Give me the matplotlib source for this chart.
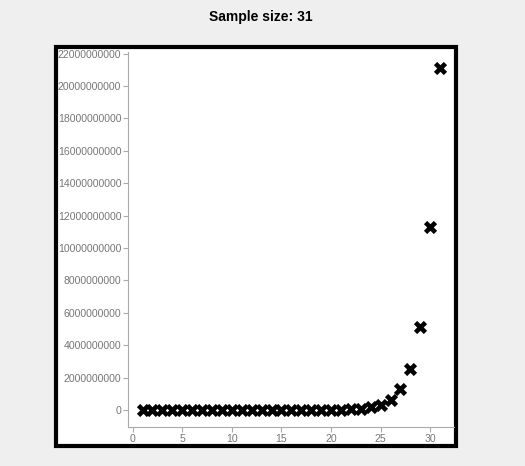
import matplotlib
matplotlib.use("Agg")
import matplotlib.pyplot as plt
from matplotlib.patches import Rectangle
from matplotlib.ticker import FuncFormatter, MultipleLocator

# --- Data ---
x_vals = list(range(1, 32))
y_vals = [
    0, 0, 0, 0, 0, 0, 0, 0, 0, 0,
    1e5, 2e5, 4e5, 8e5, 1.6e6, 3e6, 6e6, 1.2e7, 1.5e7, 2.5e7,
    3e7, 7e7, 8e7, 1.7e8, 3.2e8, 6.3e8, 1.28e9, 2.51e9, 5.11e9, 1.127e10,
    2.11e10,
]
title_text = "Sample size: 31"
y_ticks = [0, 2e9, 4e9, 6e9, 8e9, 10e9, 12e9, 14e9, 16e9, 18e9, 20e9, 22e9]

W, H = 525, 466
BG = "#efefef"
AXIS_GREY = "#aaaaaa"
LABEL_GREY = "#777777"

fig = plt.figure(figsize=(W / 100, H / 100), dpi=100, facecolor=BG)

# white panel with thick black border, drawn under the plot axes
fig.patches.append(Rectangle((56 / W, 1 - 446 / H), 400 / W, 399 / H,
                             transform=fig.transFigure, facecolor="white",
                             edgecolor="black", linewidth=3, zorder=0))

ax = fig.add_axes([128 / W, 1 - 427 / H, (454 - 128) / W, (427 - 52) / H])
ax.set_zorder(5)
ax.set_facecolor("none")
ax.scatter(x_vals, y_vals, marker="X", s=90, color="black", linewidths=0, zorder=3)

ax.set_xlim(-0.47, 32.4)
ax.set_ylim(-1.05e9, 22.1e9)
ax.xaxis.set_major_locator(MultipleLocator(5))
ax.set_yticks(y_ticks)
ax.yaxis.set_major_formatter(FuncFormatter(lambda v, p: f"{int(round(v))}"))

for side in ("top", "right"):
    ax.spines[side].set_visible(False)
for side in ("left", "bottom"):
    ax.spines[side].set_color(AXIS_GREY)
    ax.spines[side].set_linewidth(0.8)
ax.tick_params(colors=AXIS_GREY, labelcolor=LABEL_GREY, length=3.6, width=0.8,
               labelsize=7.6, pad=1.2)
for lab in ax.get_xticklabels() + ax.get_yticklabels():
    lab.set_fontfamily("Liberation Sans")

fig.text(0.497, 1 - 17 / H, title_text, ha="center", va="center",
         fontsize=10, fontweight="bold", family="Liberation Sans")

fig.savefig("out.png", dpi=100, facecolor=BG)
